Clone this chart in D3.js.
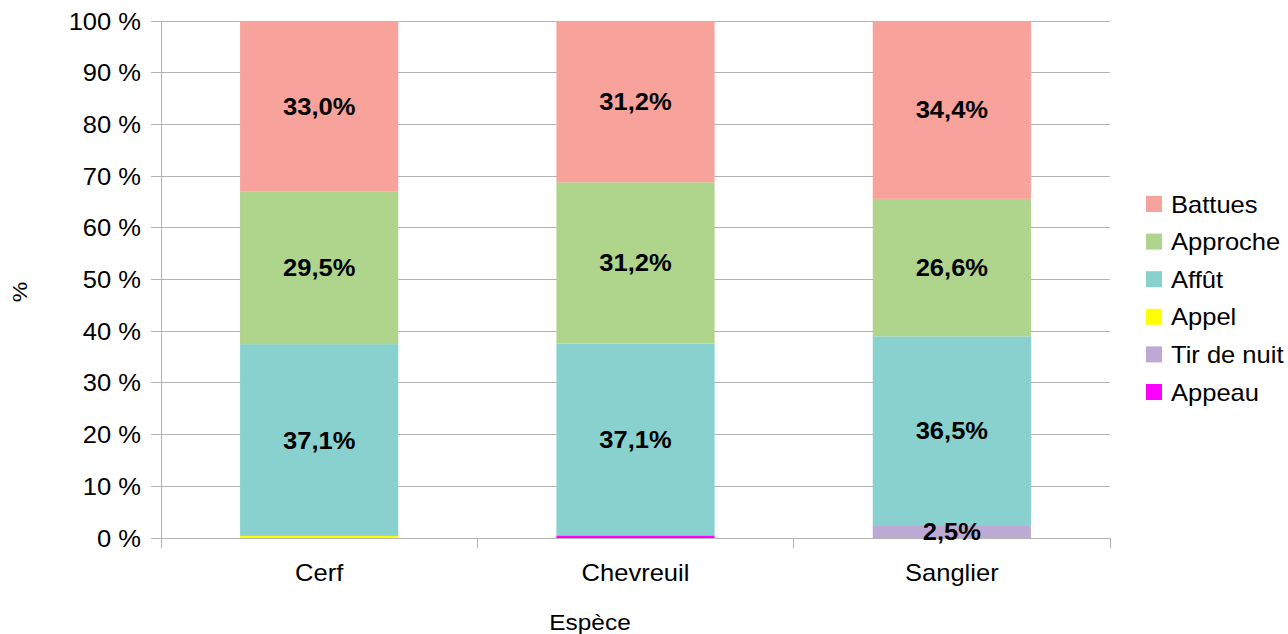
<!DOCTYPE html>
<html>
<head>
<meta charset="utf-8">
<script src="https://cdn.jsdelivr.net/npm/d3@7"></script>
<style>
  html, body { margin: 0; padding: 0; background: #fff; }
  svg { display: block; font-family: "Liberation Sans", Arial, sans-serif; }
</style>
</head>
<body>
<svg id="chart" width="1288" height="634"></svg>
<script>
// Species on the x axis
const categories = ["Cerf", "Chevreuil", "Sanglier"];

// Hunting modes, bottom of the stack first
const seriesNames = ["Appeau", "Tir de nuit", "Appel", "Affût", "Approche", "Battues"];
const seriesColors = ["#ff00ff", "#bcaad5", "#ffff00", "#88d1ce", "#afd48b", "#f7a29b"];

// Share (%) of each mode per species
const appeau    = [0.0, 0.5, 0.0];
const tirDeNuit = [0.0, 0.0, 2.5];
const appel     = [0.4, 0.0, 0.0];
const affut     = [37.1, 37.1, 36.5];
const approche  = [29.5, 31.2, 26.6];
const battues   = [33.0, 31.2, 34.4];

const yTicks = [0, 10, 20, 30, 40, 50, 60, 70, 80, 90, 100];

const seriesValues = [appeau, tirDeNuit, appel, affut, approche, battues];

const rows = categories.map((c, i) => {
  const r = { cat: c };
  seriesNames.forEach((s, k) => { r[s] = seriesValues[k][i]; });
  return r;
});

const svg = d3.select("#chart");
const plotL = 161, plotR = 1110, plotT = 21, plotB = 538;
const stretch = 1.11; // glyphs are drawn slightly wide
const fs = 23;

const x = d3.scaleBand().domain(categories).range([plotL, plotR]).paddingInner(0.5).paddingOuter(0.25);
const y = d3.scaleLinear().domain([0, 100]).range([plotB, plotT]);

const grid = "#b3b3b3";
const place = (px, py) => `translate(${px},${py}) scale(${stretch},1)`;

// horizontal grid lines
svg.append("g").selectAll("line").data(yTicks).join("line")
  .attr("x1", plotL - 10).attr("x2", plotR)
  .attr("y1", d => y(d)).attr("y2", d => y(d))
  .attr("stroke", grid).attr("stroke-width", 1)
  .attr("shape-rendering", "crispEdges");

// y axis line
svg.append("line").attr("x1", plotL).attr("x2", plotL).attr("y1", plotT).attr("y2", plotB + 10)
  .attr("stroke", grid).attr("shape-rendering", "crispEdges");

// x category separators
const band = (plotR - plotL) / categories.length;
svg.append("g").selectAll("line").data(d3.range(categories.length + 1)).join("line")
  .attr("x1", d => plotL + d * band).attr("x2", d => plotL + d * band)
  .attr("y1", plotB).attr("y2", plotB + 10)
  .attr("stroke", grid).attr("shape-rendering", "crispEdges");

// y tick labels
svg.append("g").selectAll("text").data(yTicks).join("text")
  .attr("transform", d => place(plotL - 20, y(d) + 8.5))
  .attr("text-anchor", "end").attr("font-size", fs).attr("fill", "#000")
  .text(d => d + " %");

// stacked bars
const stack = d3.stack().keys(seriesNames)(rows);
const fmt = v => d3.format(".1f")(v).replace(".", ",") + "%";

const layers = svg.append("g").selectAll("g").data(stack).join("g")
  .attr("fill", (d, i) => seriesColors[i]);

layers.selectAll("rect").data(d => d).join("rect")
  .attr("x", d => x(d.data.cat))
  .attr("width", x.bandwidth())
  .attr("y", d => y(d[1]))
  .attr("height", d => y(d[0]) - y(d[1]));

// value labels for visible segments
const labels = [];
stack.forEach(layer => layer.forEach(d => {
  const v = d[1] - d[0];
  if (v >= 1) labels.push({ cat: d.data.cat, mid: (d[0] + d[1]) / 2, v });
}));
svg.append("g").selectAll("text").data(labels).join("text")
  .attr("transform", d => place(x(d.cat) + x.bandwidth() / 2, y(d.mid) + 8.5))
  .attr("text-anchor", "middle").attr("font-size", fs).attr("font-weight", "bold")
  .attr("fill", "#000")
  .text(d => fmt(d.v));

// category labels
svg.append("g").selectAll("text").data(categories).join("text")
  .attr("transform", d => place(x(d) + x.bandwidth() / 2, 581))
  .attr("text-anchor", "middle").attr("font-size", fs).attr("fill", "#000")
  .text(d => d);

// axis titles
svg.append("text").attr("transform", place(590, 630)).attr("text-anchor", "middle")
  .attr("font-size", 22).attr("fill", "#000").text("Espèce");
svg.append("text").attr("transform", "translate(27,292) rotate(-90) scale(1.1,1)").attr("text-anchor", "middle")
  .attr("font-size", 21).attr("fill", "#000").text("%");

// legend, top series first
const legendItems = seriesNames.map((s, i) => ({ s, c: seriesColors[i] })).reverse();
const lg = svg.append("g").selectAll("g").data(legendItems).join("g")
  .attr("transform", (d, i) => `translate(1146, ${196 + i * 37.6})`);
lg.append("rect").attr("width", 16).attr("height", 16).attr("fill", d => d.c);
lg.append("text").attr("transform", place(25, 16.5)).attr("font-size", fs).attr("fill", "#000").text(d => d.s);
</script>
</body>
</html>
